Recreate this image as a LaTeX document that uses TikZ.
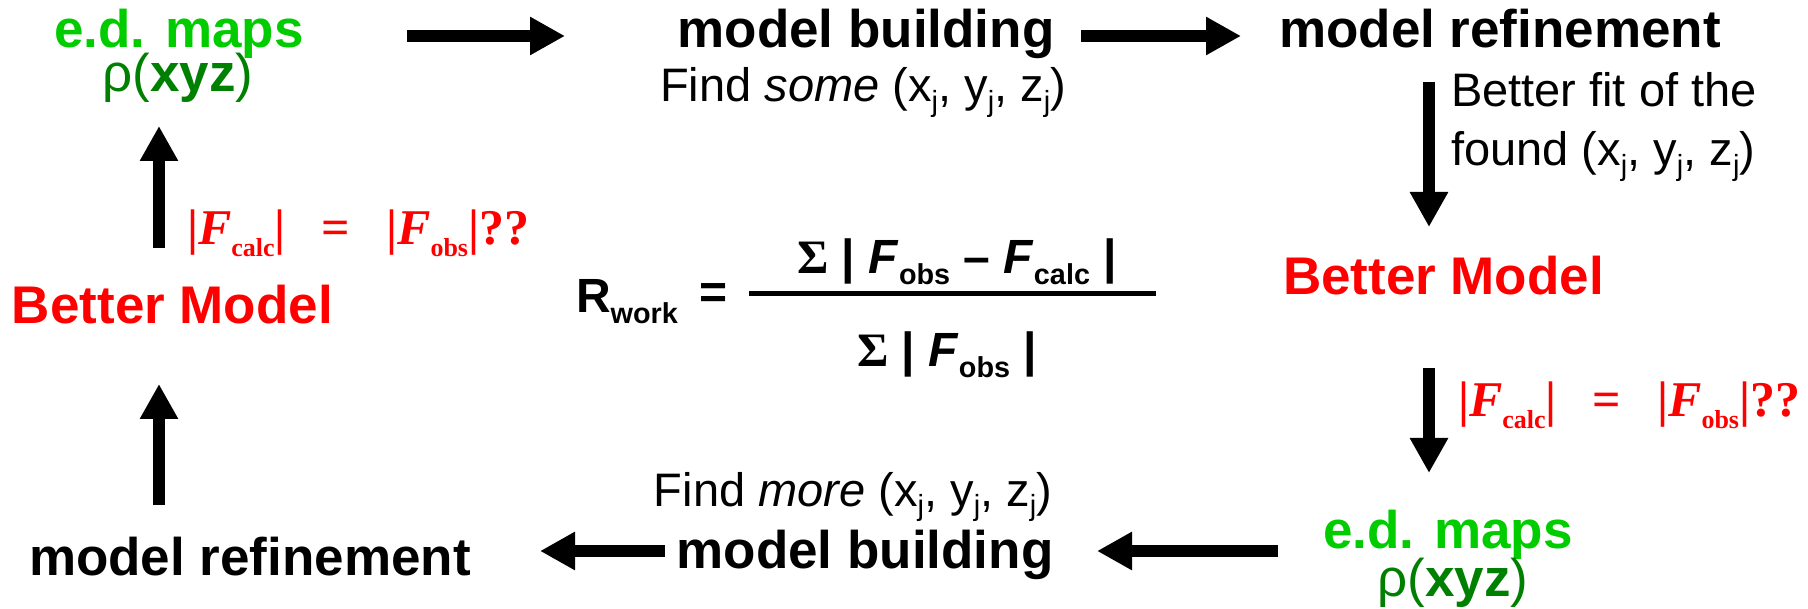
\documentclass[tikz,border=0pt]{standalone}
\usepackage{fontspec}
\usepackage{graphicx}
\setmainfont{Liberation Sans}
\newfontfamily\tnr{Liberation Serif}
\usetikzlibrary{arrows.meta}
\definecolor{lgreen}{RGB}{0,204,0}
\definecolor{dgreen}{RGB}{0,128,0}
\definecolor{myred}{RGB}{255,0,0}
\newcommand\lowsub[1]{\raisebox{-0.22em}{\scalebox{0.6}{#1}}}
\newcommand\redsub[1]{\raisebox{-0.24em}{\scalebox{0.52}{#1}}}
\newcommand\jsub{\raisebox{-0.2em}{\scalebox{0.62}{j}}}
\newcommand\sig{{\tnr\bfseries Σ}}
\begin{document}
\begin{tikzpicture}[x=1pt,y=-1pt,
  every node/.style={inner sep=0pt, outer sep=0pt, anchor=base},
  big/.style={font=\fontsize{53}{60}\selectfont\bfseries},
  reg/.style={font=\fontsize{47}{56}\selectfont},
  fbold/.style={font=\fontsize{48}{56}\selectfont\bfseries},
  redeq/.style={font=\fontsize{50}{58}\selectfont\tnr\bfseries, text=myred},
  blockarrow/.style={line width=12pt, -{Triangle[length=35pt,width=36pt]}},
]
\useasboundingbox (0,0) rectangle (1808,609);

% top row
\node[big, text=lgreen] (ed1) at (179,48) {e.d. maps};
\node[big, text=dgreen] (rho1) at (178,92) {{\mdseries ρ(}xyz{\mdseries )}};
\node[big] (mb1) at (866,48) {model building};
\node[reg] (fs) at (863,102) {Find \textit{some} (x\jsub, y\jsub, z\jsub)};
\node[big] (mr1) at (1500,48) {model refinement};
\node[reg, anchor=base west] (bf1) at (1451,107) {Better fit of the};
\node[reg, anchor=base west] (bf2) at (1451,166) {found (x\jsub, y\jsub, z\jsub)};

% right column
\node[big, text=myred, anchor=base west] (bm1) at (1283,295) {Better Model};
\node[redeq, anchor=base west] (eq2) at (1458,417) {|\textit{F}\redsub{calc}|\hspace{0.72em}=\hspace{0.72em}|\textit{F}\redsub{obs}|??};
\node[big, text=lgreen] (ed2) at (1448,548) {e.d. maps};
\node[big, text=dgreen] (rho2) at (1453,596) {{\mdseries ρ(}xyz{\mdseries )}};

% bottom row
\node[big] (mb2) at (865,568) {model building};
\node[reg] (fm) at (853,506) {Find \textit{more} (x\jsub, y\jsub, z\jsub)};
\node[big, anchor=base west] (mr2) at (29,575) {model refinement};

% left column
\node[big, text=myred, anchor=base west] (bm2) at (12,324) {Better Model};
\node[redeq, anchor=base west] (eq1) at (187,245) {|\textit{F}\redsub{calc}|\hspace{0.72em}=\hspace{0.72em}|\textit{F}\redsub{obs}|??};

% formula
\node[fbold, anchor=base west] (rw) at (576,313) {R\lowsub{work}};
\node[fbold] (eqs) at (714,309) {=};
\coordinate (barL) at (749,294);
\coordinate (barR) at (1156,294);
\draw[line width=5pt] (barL) -- (barR);
\node[fbold] (num) at (957,274) {\sig{} | \textit{F}\lowsub{obs} – \textit{F}\lowsub{calc} |};
\node[fbold] (den) at (947,367) {\sig{} | \textit{F}\lowsub{obs} |};

% arrows
\coordinate (a1s) at (407,36);  \coordinate (a1e) at (565,36);
\coordinate (a2s) at (1081,36); \coordinate (a2e) at (1241,36);
\coordinate (a3s) at (1429,82); \coordinate (a3e) at (1429,227);
\coordinate (a4s) at (1429,368); \coordinate (a4e) at (1429,473);
\coordinate (a5s) at (1278,551); \coordinate (a5e) at (1097,551);
\coordinate (a6s) at (665,551); \coordinate (a6e) at (540,551);
\coordinate (a7s) at (159,505); \coordinate (a7e) at (159,384);
\coordinate (a8s) at (159,248); \coordinate (a8e) at (159,126);
\draw[blockarrow] (a1s) -- (a1e);
\draw[blockarrow] (a2s) -- (a2e);
\draw[blockarrow] (a3s) -- (a3e);
\draw[blockarrow] (a4s) -- (a4e);
\draw[blockarrow] (a5s) -- (a5e);
\draw[blockarrow] (a6s) -- (a6e);
\draw[blockarrow] (a7s) -- (a7e);
\draw[blockarrow] (a8s) -- (a8e);
\end{tikzpicture}
\end{document}
